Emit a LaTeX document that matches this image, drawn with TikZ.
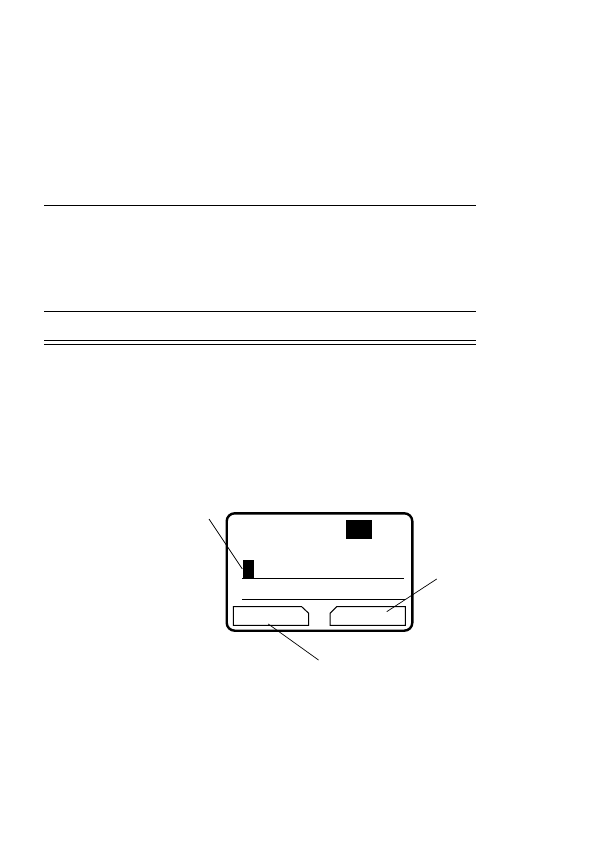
\documentclass[tikz,border=0pt]{standalone}
\usetikzlibrary{positioning}
\begin{document}
\begin{tikzpicture}[x=1pt, y=-1pt]
            % Estilos
            \tikzstyle{regla} = [line width=1pt]
            \tikzstyle{marco} = [line width=2.4pt, rounded corners=8pt]
            \tikzstyle{bloque} = [fill=black, inner sep=0pt]
            \tikzstyle{tecla} = [line width=1pt]
            \tikzstyle{guia} = [line width=0.7pt]

            \useasboundingbox (0,0) rectangle (594,842);

            % Reglas
            \draw [regla] (44,206) -- (476,206);
            \draw [regla] (44,311.3) -- (476,311.3);
            \draw [regla] (44,340.3) -- (476,340.3);
            \draw [regla] (44,344.3) -- (476,344.3);

            % Pantalla
            \draw [marco] (226.7,513.3) rectangle (412.3,630.7);
            \node [bloque, minimum width=25.7pt, minimum height=18.7pt, anchor=north west] (icono) at (346,520) {};
            \node [bloque, minimum width=11.7pt, minimum height=18.3pt, anchor=south west] (cursor) at (242.3,578.3) {};
            \draw [tecla] (242,578.3) -- (403.7,578.3);
            \draw [tecla] (242,599.7) -- (404.7,599.7);

            % Teclas
            \draw [tecla] (233.3,606.7) -- (301.7,606.7) -- (308.7,613.3) -- (308.7,625.3) -- (233.3,625.3) -- cycle;
            \draw [tecla] (336.7,606.7) -- (405.3,606.7) -- (405.3,625.3) -- (330,625.3) -- (330,613.3) -- cycle;
            \coordinate (izq) at (268.3,624);
            \coordinate (der) at (386.7,611.7);

            % Lineas guia
            \coordinate (gCursor) at (209,519);
            \coordinate (gDer) at (436.7,579);
            \coordinate (gIzq) at (318.5,660);
            \draw [guia] (gCursor) -- (cursor.west);
            \draw [guia] (gDer) -- (der);
            \draw [guia] (gIzq) -- (izq);
\end{tikzpicture}
\end{document}
